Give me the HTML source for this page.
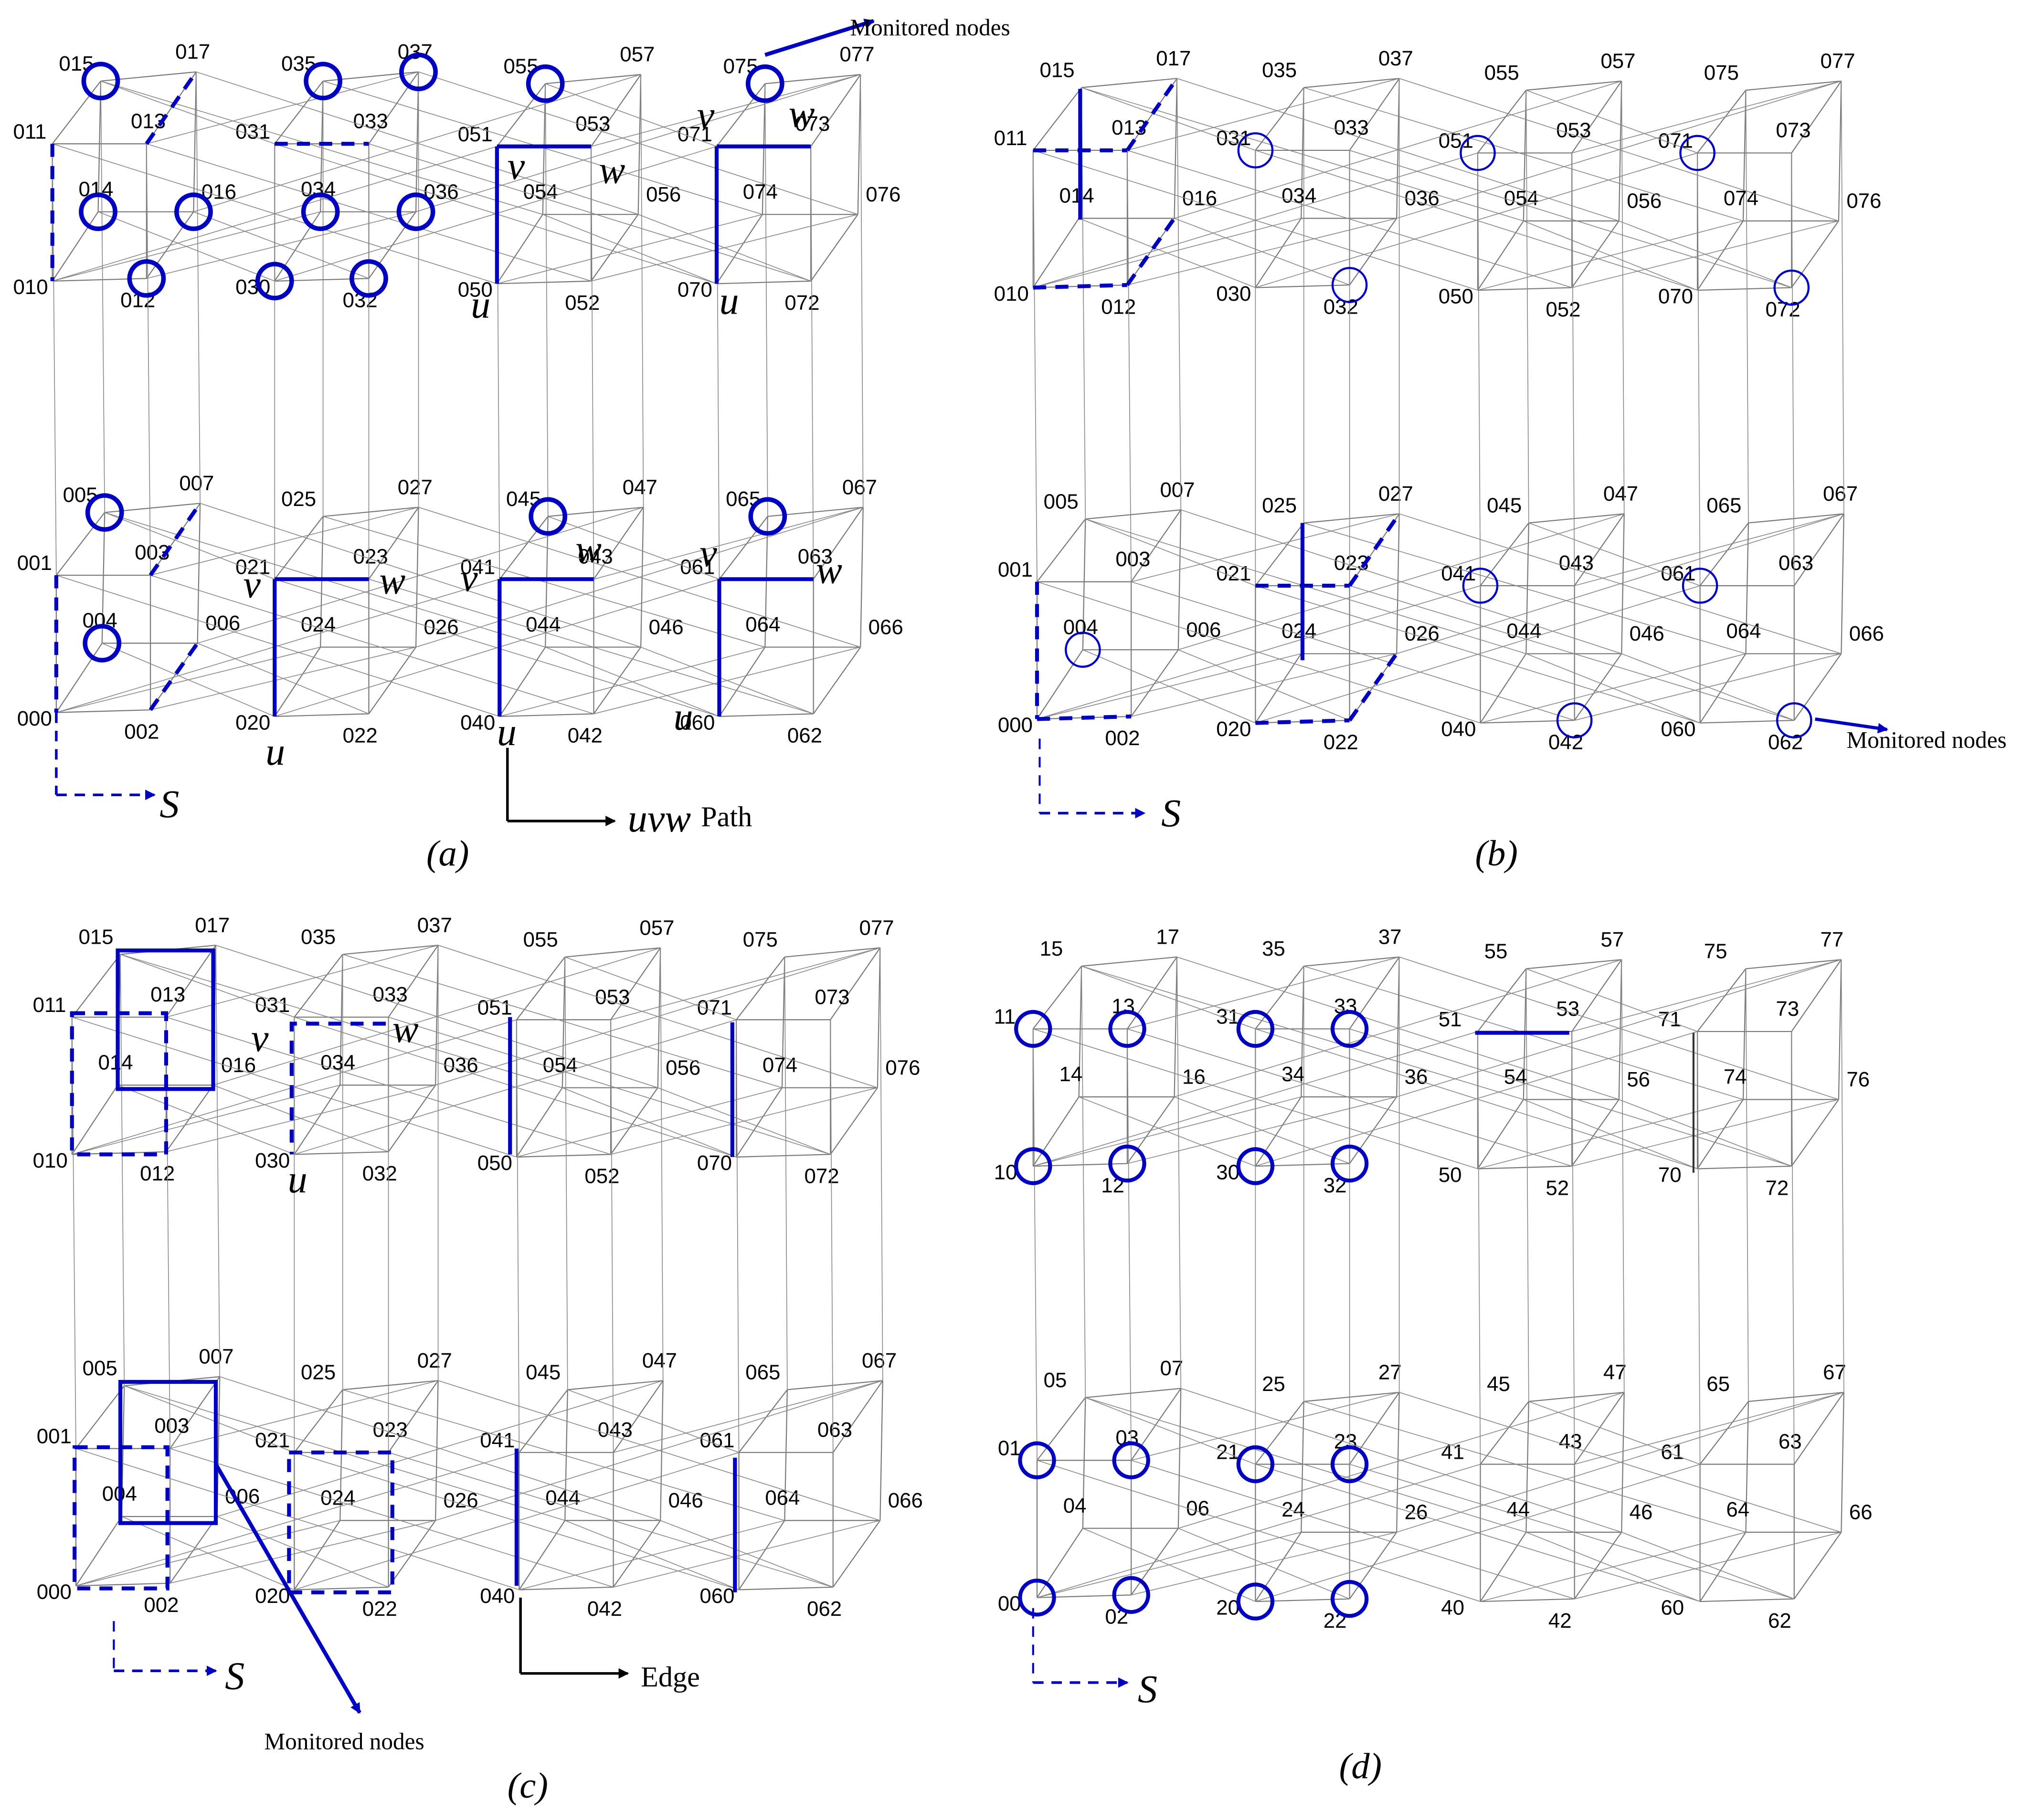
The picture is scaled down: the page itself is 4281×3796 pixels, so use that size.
<!DOCTYPE html>
<html><head><meta charset="utf-8"><style>
html,body{margin:0;padding:0;background:#fff;}
svg{display:block;}
text{font-family:"Liberation Sans",sans-serif;font-size:16px;fill:#000;}
.it{font-family:"Liberation Serif",serif;font-style:italic;font-size:30px;}
.sr{font-family:"Liberation Serif",serif;font-size:22px;}
</style></head><body>
<svg id="s" xmlns="http://www.w3.org/2000/svg" width="4281" height="3796" viewBox="0 0 1563 1386">
<rect width="1563" height="1386" fill="#fff"/>
<g id="g"></g>
<defs>
<marker id="ab" markerWidth="8" markerHeight="8" refX="7" refY="4" orient="auto" markerUnits="userSpaceOnUse" viewBox="0 0 8 8"><path d="M0,0 L8,4 L0,8z" fill="#0000c0"/></marker>
<marker id="ak" markerWidth="8" markerHeight="8" refX="7" refY="4" orient="auto" markerUnits="userSpaceOnUse" viewBox="0 0 8 8"><path d="M0,0 L8,4 L0,8z" fill="#000"/></marker>
</defs>
</svg>
<script>
var g=document.getElementById('g'),h='';
var base=[[0,105],[0,0],[72,103],[72,0],[35,52],[37,-48],[108,52],[110,-55]];
var co={1:[40,110],3:[210,110],5:[380,112],7:[548,112],0:[43,440],2:[210,443],4:[382,443],6:[550,443]};
var lo=[[-30,10],[-30,-4],[-20,22],[-12,-12],[-15,-12],[-32,-8],[6,-10],[-16,-10]];
function P(off,m,v){var c=co[m];return [off[0]+c[0]+base[v][0],off[1]+c[1]+base[v][1]];}
var panels={a:[0,0],b:[750,5],c:[15,668],d:[750,677]};
function L(a,b,st){h+='<line x1="'+a[0]+'" y1="'+a[1]+'" x2="'+b[0]+'" y2="'+b[1]+'" '+st+'/>';}
var E=[[0,1],[2,3],[4,5],[6,7],[0,2],[1,3],[4,6],[5,7],[0,4],[1,5],[2,6],[3,7]];
for(var k in panels){var o=panels[k];
 for(var m=0;m<8;m++){E.forEach(function(e){L(P(o,m,e[0]),P(o,m,e[1]),'stroke="#777" stroke-width="0.8"');});
  for(var v=0;v<8;v++){var p=P(o,m,v);var lab=(k=='d'?'':'0')+m+v;
   h+='<text x="'+(p[0]+lo[v][0])+'" y="'+(p[1]+lo[v][1])+'">'+lab+'</text>';}}
 for(var m=0;m<8;m++)for(var b=1;b<8;b*=2){var n=m^b;if(n<m)continue;
  for(var v=0;v<8;v++){ if(b==1 && v%2==0)continue; if(b==2&&(v==1||v==7))continue; if(b==4&&(v==2||v==4))continue;
   var vv=(b==1)?v:(v^(b==2?4:1));L(P(o,m,v),P(o,n,vv),'stroke="#888" stroke-width="0.6"');}}
}
function C(p,r,w){h+='<circle cx="'+p[0]+'" cy="'+p[1]+'" r="'+r+'" fill="none" stroke="#0000c0" stroke-width="'+w+'"/>';}
var A=panels.a;
[[1,5],[1,4],[1,6],[1,2],[3,5],[3,7],[3,4],[3,6],[3,0],[3,2],[5,5],[7,5],[0,5],[0,4],[4,5],[6,5]].forEach(function(q){C(P(A,q[0],q[1]),13,3.5);});
[[3,1],[5,1],[7,1],[3,2],[7,2],[0,4],[4,1],[6,1],[4,2],[6,2]].forEach(function(q){C(P(panels.b,q[0],q[1]),13,1.6);});
[[1,1],[1,3],[1,0],[1,2],[3,1],[3,3],[3,0],[3,2],[0,1],[0,3],[0,0],[0,2],[2,1],[2,3],[2,0],[2,2]].forEach(function(q){C(P(panels.d,q[0],q[1]),13,3);});
var BS='stroke="#0000c0" stroke-width="3"',BD='stroke="#0000c0" stroke-width="3" stroke-dasharray="10,7" fill="none"';
function PL(o,m,a,b,st){L(P(o,m,a),P(o,m,b),st);}
PL(A,1,1,0,BD);PL(A,1,3,7,BD);PL(A,3,1,3,BD);PL(A,0,1,0,BD);PL(A,0,3,7,BD);PL(A,0,2,6,BD);
[5,7,2,4,6].forEach(function(m){PL(A,m,1,3,BS);PL(A,m,1,0,BS);});
L([43,545],[43,608],'stroke="#0000c0" stroke-width="2" stroke-dasharray="8,6"');L([43,608],[118,608],'stroke="#0000c0" stroke-width="2" stroke-dasharray="8,6" marker-end="url(#ab)"');
h+='<text class="it" x="122" y="625">S</text>';
L([388,572],[388,628],'stroke="#000" stroke-width="2"');L([388,628],[470,628],'stroke="#000" stroke-width="2" marker-end="url(#ak)"');
h+='<text class="it" x="480" y="636">uvw</text><text class="sr" x="536" y="632">Path</text>';
L([585,42],[668,16],'stroke="#0000c0" stroke-width="3" marker-end="url(#ab)"');
h+='<text class="sr" x="650" y="27" style="font-size:18px">Monitored nodes</text>';
[['v',388,137],['w',458,140],['u',360,243],['v',533,98],['w',603,97],['u',550,240],['v',186,457],['w',290,454],['u',203,585],['v',352,452],['w',440,430],['u',380,570],['v',535,433],['w',624,446],['u',515,558]].forEach(function(t){h+='<text class="it" x="'+t[1]+'" y="'+t[2]+'">'+t[0]+'</text>';});
h+='<text class="sr" x="326" y="662" style="font-size:28px;font-style:italic">(a)</text>';
var B=panels.b;
L([826,68],[826,168],BS);PL(B,1,1,3,BD);PL(B,1,3,7,BD);PL(B,1,0,2,BD);PL(B,1,2,6,BD);
PL(B,0,1,0,BD);PL(B,0,0,2,BD);L([996,400],[996,505],BS);PL(B,2,1,3,BD);PL(B,2,3,7,BD);PL(B,2,0,2,BD);PL(B,2,2,6,BD);
L([795,565],[795,622],'stroke="#0000c0" stroke-width="1.5" stroke-dasharray="8,6"');L([795,622],[875,622],'stroke="#0000c0" stroke-width="2" stroke-dasharray="8,6" marker-end="url(#ab)"');
h+='<text class="it" x="888" y="632">S</text>';
L([1388,550],[1443,558],'stroke="#0000c0" stroke-width="2.5" marker-end="url(#ab)"');
h+='<text class="sr" x="1412" y="572" style="font-size:18px">Monitored nodes</text>';
h+='<text class="sr" x="1128" y="662" style="font-size:28px;font-style:italic">(b)</text>';
h+='<rect x="90" y="727" width="73" height="106" fill="none" stroke="#0000c0" stroke-width="3"/>';
h+='<rect x="55" y="775" width="72" height="108" '+BD+'/>';
h+='<polyline points="295,783 223,783 223,883" '+BD+'/>';
h+='<rect x="92" y="1057" width="73" height="108" fill="none" stroke="#0000c0" stroke-width="3"/>';
h+='<rect x="57" y="1107" width="71" height="108" '+BD+'/>';
h+='<rect x="221" y="1111" width="79" height="107" '+BD+'/>';
L([390,778],[390,883],BS);L([560,782],[560,885],BS);L([395,1108],[395,1213],BS);L([562,1115],[562,1218],BS);
L([165,1120],[275,1310],'stroke="#0000c0" stroke-width="3" marker-end="url(#ab)"');
h+='<text class="sr" x="202" y="1338" style="font-size:18px">Monitored nodes</text>';
L([398,1222],[398,1280],'stroke="#000" stroke-width="2"');L([398,1280],[480,1280],'stroke="#000" stroke-width="2" marker-end="url(#ak)"');
h+='<text class="sr" x="490" y="1290">Edge</text>';
L([87,1240],[87,1278],'stroke="#0000c0" stroke-width="1.5" stroke-dasharray="8,6"');L([87,1278],[165,1278],'stroke="#0000c0" stroke-width="2" stroke-dasharray="8,6" marker-end="url(#ab)"');
h+='<text class="it" x="172" y="1292">S</text>';
h+='<text class="it" x="192" y="804">v</text><text class="it" x="300" y="797">w</text><text class="it" x="220" y="912">u</text>';
h+='<text class="sr" x="388" y="1375" style="font-size:28px;font-style:italic">(c)</text>';
L([1128,790],[1200,790],BS);L([1295,790],[1295,897],'stroke="#333" stroke-width="1.5"');
L([790,1230],[790,1287],'stroke="#0000c0" stroke-width="1.5" stroke-dasharray="8,6"');L([790,1287],[862,1287],'stroke="#0000c0" stroke-width="2" stroke-dasharray="8,6" marker-end="url(#ab)"');
h+='<text class="it" x="870" y="1302">S</text>';
h+='<text class="sr" x="1024" y="1360" style="font-size:28px;font-style:italic">(d)</text>';
g.innerHTML=h;
</script>
</body></html>
